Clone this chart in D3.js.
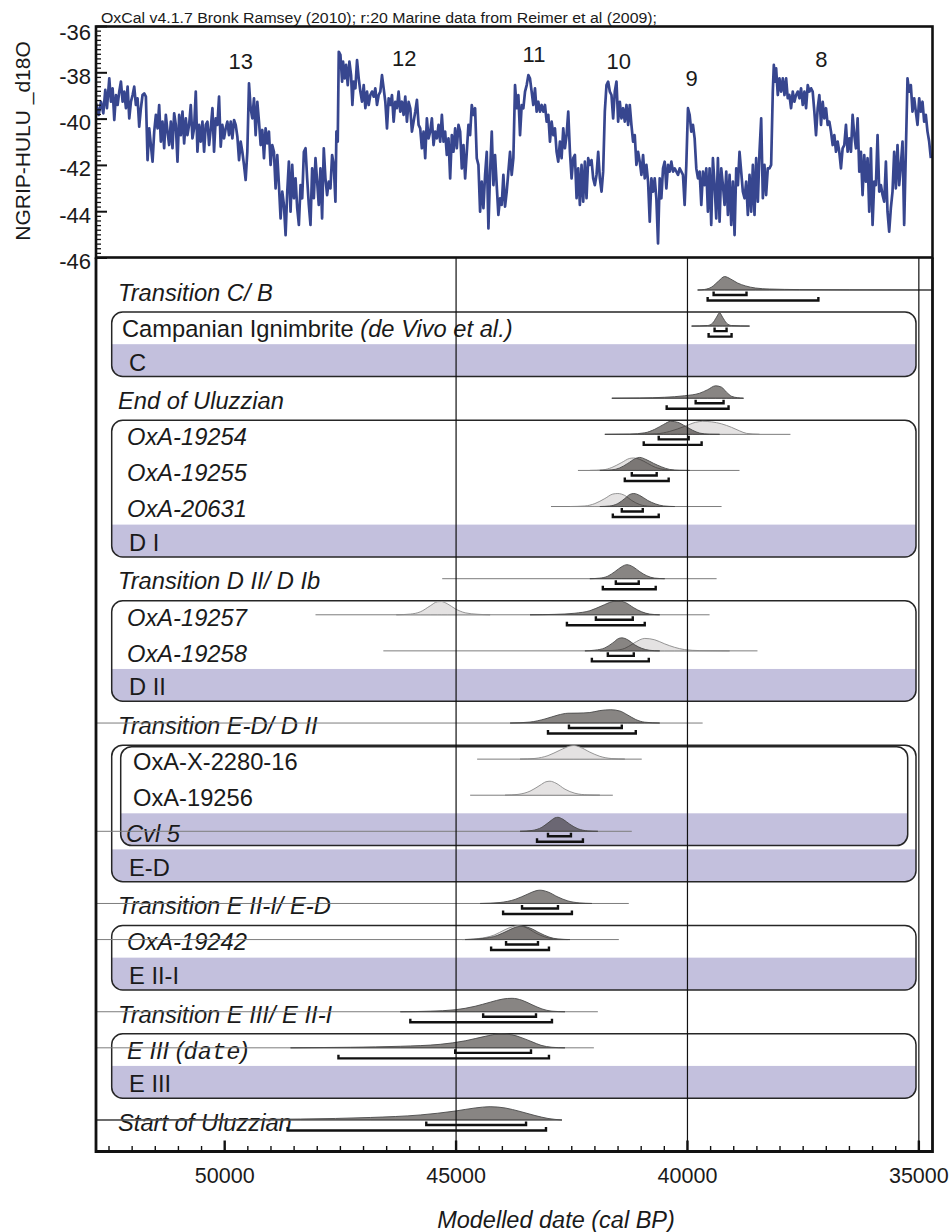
<!DOCTYPE html>
<html>
<head>
<meta charset="utf-8">
<script src="https://cdn.jsdelivr.net/npm/d3@7"></script>
<style>
  html, body { margin: 0; padding: 0; background: #fff; }
  svg { display: block; }
  text { font-family: 'Liberation Sans', Arial, Helvetica, sans-serif; fill: #1a1a1a; }
</style>
</head>
<body>
<svg id="chart" width="951" height="1232"></svg>
<script>
(function () {
  'use strict';

  // ---- NGRIP-HULU d18O record [age cal BP, d18O] ----
  const NGRIP = [
    [52781,-39.32],[52724,-39.82],[52673,-39.25],[52623,-39.75],[52580,-38.74],[52544,-39.53],[52494,-38.24],[52458,-39.25],
    [52422,-38.67],[52386,-40.04],[52350,-38.96],[52314,-39.39],[52278,-38.81],[52242,-38.38],[52206,-39.25],[52170,-38.81],
    [52134,-39.53],[52098,-38.60],[52062,-39.97],[52026,-39.25],[51990,-38.96],[51955,-38.60],[51919,-39.39],[51883,-39.10],
    [51847,-40.33],[51811,-39.53],[51775,-38.96],[51739,-38.89],[51703,-39.03],[51667,-41.77],[51631,-40.40],[51595,-41.12],
    [51559,-41.84],[51523,-40.54],[51487,-39.82],[51451,-40.40],[51416,-39.39],[51380,-40.97],[51344,-40.11],[51308,-41.26],
    [51272,-39.82],[51236,-40.54],[51200,-41.12],[51164,-40.11],[51128,-41.26],[51092,-39.75],[51056,-40.25],[51020,-41.84],
    [50984,-39.82],[50948,-40.69],[50912,-39.68],[50876,-41.05],[50840,-39.97],[50805,-40.69],[50769,-40.25],[50733,-39.39],
    [50697,-40.83],[50661,-40.40],[50625,-38.81],[50589,-41.41],[50553,-40.25],[50517,-40.97],[50481,-40.11],[50445,-41.41],
    [50409,-40.25],[50373,-40.11],[50337,-41.12],[50301,-40.40],[50265,-39.53],[50230,-41.41],[50194,-39.97],[50158,-40.25],
    [50122,-39.03],[50086,-41.19],[50050,-40.25],[50014,-40.83],[49978,-40.40],[49942,-40.11],[49906,-40.69],[49870,-40.11],
    [49834,-40.83],[49798,-40.04],[49762,-40.25],[49726,-40.76],[49690,-41.77],[49655,-40.97],[49619,-41.41],[49583,-41.98],
    [49547,-42.63],[49511,-41.41],[49475,-38.46],[49439,-39.53],[49403,-39.97],[49367,-39.10],[49331,-40.69],[49295,-39.25],
    [49259,-40.11],[49223,-41.12],[49187,-40.47],[49151,-41.69],[49116,-40.40],[49080,-41.05],[49044,-40.54],[49008,-41.98],
    [48972,-41.12],[48936,-41.41],[48900,-42.99],[48864,-41.55],[48828,-42.85],[48792,-44.29],[48756,-43.13],[48720,-43.71],
    [48684,-45.01],[48648,-43.13],[48613,-41.84],[48577,-44.00],[48541,-41.98],[48505,-43.42],[48469,-42.56],[48433,-43.85],
    [48397,-44.57],[48361,-42.85],[48325,-43.42],[48289,-41.41],[48253,-41.26],
    [48218,-42.56],[48182,-43.71],[48146,-44.57],[48110,-42.13],[48074,-43.42],[48038,-41.69],[48002,-42.70],[47967,-43.71],
    [47931,-42.13],[47895,-44.29],[47859,-41.26],[47823,-42.56],[47787,-43.28],[47751,-42.70],[47715,-42.99],[47679,-41.55],
    [47643,-41.98],[47607,-43.57],[47586,-40.54],[47557,-40.97],[47535,-37.09],[47499,-37.23],[47463,-38.38],[47442,-37.52],
    [47406,-38.24],[47377,-37.66],[47341,-38.53],[47305,-37.52],[47269,-38.10],[47241,-39.39],[47212,-38.38],[47176,-38.67],
    [47140,-37.45],[47104,-38.24],[47068,-38.81],[47032,-39.25],[46996,-38.53],[46960,-39.53],[46924,-38.81],[46888,-39.39],
    [46853,-38.96],[46817,-38.81],[46781,-39.03],[46745,-38.67],[46709,-39.39],[46673,-38.96],[46637,-38.81],[46601,-38.10],
    [46565,-38.67],[46529,-39.25],[46493,-40.40],[46457,-39.10],[46421,-39.39],[46385,-38.96],[46349,-40.11],[46314,-39.25],
    [46278,-39.53],[46242,-38.81],[46206,-39.68],[46170,-39.25],[46134,-39.82],[46098,-39.03],[46062,-40.11],[46026,-39.25],
    [45990,-39.53],[45954,-40.54],[45918,-40.11],[45882,-39.68],[45846,-39.17],[45810,-40.25],[45775,-40.40],[45739,-41.26],
    [45703,-40.54],[45667,-41.69],[45631,-39.97],[45595,-40.83],[45559,-40.54],[45523,-39.97],[45487,-41.12],[45451,-40.54],
    [45415,-40.83],[45379,-40.25],[45343,-40.97],[45307,-39.82],[45271,-40.97],[45236,-40.54],[45200,-41.55],[45164,-40.83],
    [45128,-42.56],[45092,-40.69],[45056,-41.41],[45020,-40.40],[44984,-41.26],[44948,-40.25],[44912,-40.54],[44876,-42.13],
    [44840,-41.12],[44804,-42.56],[44768,-41.41],[44733,-40.25],[44697,-40.69],[44661,-39.39],[44625,-39.82],[44589,-39.53],
    [44553,-41.69],[44517,-41.98],[44481,-44.00],[44445,-42.70],[44409,-43.85],[44373,-42.41],[44337,-41.41],[44301,-44.72],
    [44265,-42.27],[44229,-40.54],[44193,-42.85],[44158,-41.55],[44122,-42.85],[44086,-44.14],[44050,-43.42],[44014,-43.71],
    [43978,-42.41],[43942,-43.78],[43906,-43.13],[43870,-42.27],[43834,-41.41],[43798,-42.41],[43762,-41.69],[43726,-38.53],
    [43690,-39.53],[43654,-38.96],[43618,-40.69],[43582,-39.39],[43546,-39.53],[43510,-38.81],[43474,-38.53],[43438,-38.10],
    [43403,-38.24],[43367,-38.81],[43331,-39.39],[43295,-38.67],[43259,-39.68],[43223,-39.25],[43187,-39.68],[43151,-39.39],
    [43115,-39.68],[43079,-39.39],[43043,-40.11],[43007,-39.82],[42971,-40.97],[42935,-40.11],[42899,-40.69],[42864,-40.40],
    [42828,-41.41],[42792,-41.84],[42756,-40.97],[42720,-41.69],[42684,-40.40],[42648,-41.26],[42612,-40.69],[42576,-39.68],
    [42540,-41.41],[42504,-42.56],[42468,-41.69],[42432,-41.55],[42396,-43.42],[42361,-42.13],[42325,-43.71],[42289,-41.98],
    [42253,-43.57],[42217,-41.84],[42181,-43.42],[42145,-41.69],[42109,-41.98],[42073,-41.77],[42037,-42.56],[42001,-42.85],
    [41965,-42.41],[41929,-41.41],[41893,-42.56],[41857,-43.13],[41822,-42.27],[41786,-39.68],[41750,-38.53],[41714,-38.38],
    [41678,-38.81],[41642,-38.96],[41606,-39.97],[41570,-38.81],[41534,-38.38],[41498,-40.11],[41462,-39.25],[41426,-39.97],
    [41390,-39.53],[41354,-40.11],[41318,-39.39],[41282,-40.25],[41247,-39.39],[41211,-40.25],[41175,-40.97],[41139,-40.69],
    [41103,-41.98],[41067,-41.41],[41031,-41.84],[40995,-42.41],[40959,-41.55],[40923,-42.56],[40887,-41.98],[40851,-42.70],
    [40815,-44.43],[40779,-42.56],[40743,-43.13],[40708,-42.56],[40672,-43.42],[40636,-45.37],[40600,-42.56],[40564,-43.42],
    [40528,-42.13],[40492,-41.84],[40456,-42.99],[40420,-41.98],[40384,-42.27],[40348,-41.84],[40312,-42.27],[40276,-42.13],
    [40240,-42.27],[40204,-42.41],[40168,-42.13],[40132,-42.27],[40097,-42.41],[40061,-43.71],[40025,-41.98],[39989,-39.53],
    [39953,-39.82],[39917,-40.54],[39881,-40.25],[39845,-40.83],[39809,-42.13],[39773,-42.56],[39737,-42.27],[39701,-43.71],
    [39665,-42.27],[39629,-42.85],[39593,-42.13],[39558,-44.00],[39522,-42.13],[39486,-44.57],[39450,-41.69],[39414,-42.85],
    [39378,-44.29],[39342,-41.69],[39306,-44.43],[39270,-42.13],[39234,-42.85],[39198,-43.71],
    [39162,-42.27],[39126,-44.14],[39090,-42.41],[39054,-44.57],[39018,-42.70],[38982,-45.01],[38946,-42.13],[38910,-42.85],
    [38875,-41.41],[38839,-42.27],[38803,-43.13],[38767,-43.42],[38731,-42.70],[38695,-44.14],[38659,-42.41],[38623,-44.00],
    [38587,-41.98],[38551,-44.14],[38515,-41.69],[38479,-43.57],[38443,-41.41],[38407,-39.97],[38371,-43.42],[38336,-41.98],
    [38300,-43.28],[38264,-42.13],[38228,-42.13],[38192,-41.98],[38156,-38.81],[38134,-37.66],[38106,-38.38],[38084,-37.81],
    [38048,-38.96],[38012,-38.24],[37976,-38.81],[37940,-38.24],[37904,-38.96],[37868,-38.24],[37833,-39.10],[37797,-38.96],
    [37761,-39.53],[37725,-38.81],[37689,-39.25],[37653,-38.96],[37617,-38.81],[37581,-39.10],[37545,-38.67],[37509,-39.39],
    [37473,-38.81],[37437,-39.53],[37401,-38.53],[37365,-38.81],[37329,-38.67],[37294,-38.81],[37258,-39.68],[37222,-40.69],
    [37186,-39.53],[37150,-38.96],[37114,-40.25],[37078,-39.25],[37042,-39.97],[37006,-39.53],[36970,-40.25],[36934,-40.11],
    [36898,-40.54],[36862,-41.12],[36826,-40.69],[36790,-41.41],[36755,-40.97],[36719,-41.41],[36683,-42.13],[36647,-41.26],
    [36611,-41.12],[36575,-40.25],[36539,-41.41],[36503,-40.83],[36467,-41.41],[36431,-39.82],[36395,-40.69],[36359,-41.26],
    [36323,-39.97],[36287,-42.27],[36251,-41.41],[36216,-43.28],[36180,-41.55],[36144,-42.70],[36108,-41.69],[36072,-44.00],
    [36036,-41.26],[36000,-44.57],[35964,-42.70],[35928,-42.85],[35892,-40.69],[35856,-43.13],[35820,-42.85],[35784,-43.28],
    [35748,-43.57],[35712,-41.84],[35677,-44.00],[35641,-44.86],[35605,-43.85],[35569,-43.13],[35533,-41.41],[35497,-42.99],
    [35461,-41.12],[35425,-42.85],[35389,-41.98],[35353,-40.97],[35317,-44.57],[35281,-41.41],[35245,-38.24],[35209,-38.81],
    [35173,-38.53],[35137,-39.68],[35101,-39.10],[35065,-39.68],[35029,-40.25],[34993,-39.10],[34957,-39.68],[34921,-39.25],
    [34885,-40.11],[34849,-39.82],[34813,-40.54],[34777,-40.97],[34741,-41.69]
  ];

  // Interstadial numbers above the curve
  const EVENT_LABELS = ['13', '12', '11', '10', '9', '8'];
  const EVENT_AGE = [49655, 46119, 43316, 41483, 39909, 37107];
  const EVENT_D18O = [-37.48, -37.37, -37.2, -37.49, -38.21, -37.42];

  // ---- OxCal model rows (top to bottom) ----
  const ROWS = [
    'Transition C/ B', 'Campanian Ignimbrite (de Vivo et al.)', 'C',
    'End of Uluzzian', 'OxA-19254', 'OxA-19255', 'OxA-20631', 'D I',
    'Transition D II/ D Ib', 'OxA-19257', 'OxA-19258', 'D II',
    'Transition E-D/ D II', 'OxA-X-2280-16', 'OxA-19256', 'Cvl 5', 'E-D',
    'Transition E II-I/ E-D', 'OxA-19242', 'E II-I',
    'Transition E III/ E II-I', 'E III (date)', 'E III',
    'Start of Uluzzian'
  ];
  const ROW_TYPE = [
    'boundary', 'cdate', 'phase',
    'boundary', 'date', 'date', 'date', 'phase',
    'boundary', 'date', 'date', 'phase',
    'boundary', 'nested', 'nested', 'subphase', 'phase',
    'boundary', 'date', 'phase',
    'boundary', 'date', 'phase',
    'boundary'
  ];

  // Phase boxes: first row inside, row carrying the phase name
  const PHASES = [
    { name: 'C', from: 1, to: 2 },
    { name: 'D I', from: 4, to: 7 },
    { name: 'D II', from: 9, to: 11 },
    { name: 'E-D', from: 13, to: 16 },
    { name: 'Cvl 5', from: 13, to: 15, inner: true },
    { name: 'E II-I', from: 18, to: 19 },
    { name: 'E III', from: 21, to: 22 }
  ];

  // Unmodelled likelihoods [age, relative probability]
  const LIKELIHOOD = {
    'OxA-19254': [[41030,0],[40665,.04],[40384,.21],[40060,.57],[39823,.86],[39672,.93],[39478,.89],[39263,.75],[39047,.5],[38875,.25],[38724,.07],[38444,0]],
    'OxA-19255': [[42109,0],[41829,.04],[41634,.21],[41419,.57],[41247,.86],[41160,.89],[41031,.79],[40857,.5],[40686,.21],[40492,.06],[40276,0]],
    'OxA-20631': [[42540,0],[42216,.04],[42001,.21],[41785,.57],[41613,.89],[41505,.93],[41354,.79],[41203,.43],[41030,.14],[40815,.02],[40600,0]],
    'OxA-19257': [[46291,0],[45989,.05],[45773,.21],[45558,.64],[45407,.93],[45321,.95],[45191,.79],[45019,.43],[44803,.14],[44545,.04],[44264,0]],
    'OxA-19258': [[41893,0],[41570,.04],[41354,.18],[41182,.5],[41030,.79],[40922,.89],[40707,.79],[40492,.5],[40276,.25],[40060,.09],[39737,.02],[39090,0]],
    'OxA-X-2280-16': [[43618,0],[43295,.05],[43014,.25],[42755,.64],[42540,.93],[42454,.97],[42324,.86],[42109,.5],[41893,.2],[41634,.04],[41354,0]],
    'OxA-19256': [[43941,0],[43661,.06],[43402,.29],[43186,.71],[43057,.96],[42971,1],[42842,.86],[42647,.43],[42432,.14],[42152,.02],[41893,0]],
    'OxA-19242': [[44868,0],[44523,.07],[44178,.32],[43941,.71],[43769,.93],[43661,.99],[43489,.86],[43273,.46],[43057,.16],[42842,.03],[42583,0]]
  };

  // Modelled posteriors [age, relative probability]
  const POSTERIOR = {
    'Transition C/ B': [[39780,0],[39629,.04],[39478,.21],[39327,.64],[39198,.96],[39069,.79],[38918,.5],[38745,.29],[38530,.14],[38228,.07],[37581,.03],[36503,.01],[34705,0]],
    'Campanian Ignimbrite (de Vivo et al.)': [[39910,0],[39565,.04],[39457,.21],[39371,.64],[39306,.95],[39242,.64],[39155,.21],[39047,.04],[38659,0]],
    'End of Uluzzian': [[41634,0],[41030,.02],[40492,.07],[40060,.18],[39737,.36],[39565,.61],[39392,.89],[39263,.79],[39155,.43],[39047,.14],[38918,.04],[38789,0]],
    'OxA-19254': [[41785,0],[41246,.02],[40922,.11],[40707,.36],[40513,.71],[40362,.93],[40211,.86],[40039,.57],[39888,.29],[39737,.09],[39522,.01],[39306,0]],
    'OxA-19255': [[41893,0],[41634,.04],[41462,.18],[41290,.5],[41117,.86],[41031,.93],[40902,.79],[40729,.5],[40557,.25],[40384,.07],[40169,.01],[39953,0]],
    'OxA-20631': [[41893,0],[41677,.04],[41505,.21],[41354,.57],[41247,.86],[41160,.93],[41031,.79],[40857,.43],[40686,.18],[40513,.04],[40276,0]],
    'Transition D II/ D Ib': [[42109,0],[41893,.04],[41721,.18],[41570,.5],[41419,.86],[41311,1],[41182,.86],[41031,.5],[40880,.21],[40707,.04],[40492,0]],
    'OxA-19257': [[43402,0],[42863,.03],[42432,.11],[42109,.29],[41850,.64],[41634,.93],[41505,1],[41333,.86],[41160,.5],[40988,.21],[40815,.05],[40600,0]],
    'OxA-19258': [[42216,0],[42001,.05],[41785,.21],[41613,.57],[41484,.89],[41419,.93],[41290,.79],[41139,.43],[40988,.18],[40815,.04],[40600,0]],
    'Transition E-D/ D II': [[43833,0],[43402,.07],[43079,.29],[42798,.57],[42583,.7],[42367,.71],[42109,.75],[41893,.89],[41656,.95],[41462,.86],[41290,.57],[41117,.25],[40923,.06],[40600,0]],
    'Cvl 5': [[43618,0],[43359,.06],[43144,.29],[42971,.71],[42863,.96],[42799,1],[42691,.86],[42540,.5],[42367,.18],[42152,.03],[41936,0]],
    'Transition E II-I/ E-D': [[44480,0],[44049,.07],[43725,.29],[43445,.68],[43273,.91],[43186,.95],[43014,.82],[42798,.46],[42583,.18],[42324,.04],[42066,0]],
    'OxA-19242': [[44804,0],[44437,.07],[44113,.29],[43876,.64],[43704,.89],[43575,.95],[43402,.82],[43186,.46],[42993,.18],[42798,.04],[42540,0]],
    'Transition E III/ E II-I': [[46205,0],[45558,.04],[45019,.14],[44588,.39],[44264,.68],[43984,.91],[43790,.96],[43575,.82],[43359,.5],[43144,.2],[42928,.04],[42647,0]],
    'E III (date)': [[48577,0],[47284,.04],[46205,.11],[45343,.25],[44803,.5],[44372,.82],[44049,1],[43790,.93],[43575,.71],[43359,.43],[43165,.18],[42928,.04],[42647,0]],
    'Start of Uluzzian': [[52781,0],[50517,.02],[48361,.07],[46852,.18],[45774,.36],[45019,.64],[44588,.86],[44264,.95],[43941,.86],[43618,.61],[43295,.32],[43014,.11],[42712,0]]
  };

  // Extent of each row's plotted range line (null = runs to the frame)
  const SPAN = {
    'Transition C/ B': [39780, null],
    'Campanian Ignimbrite (de Vivo et al.)': [39910, 38659],
    'End of Uluzzian': [41634, 38789],
    'OxA-19254': [41785, 37775],
    'OxA-19255': [42367, 38875],
    'OxA-20631': [42949, 39263],
    'Transition D II/ D Ib': [45300, 39370],
    'OxA-19257': [48038, 39522],
    'OxA-19258': [46572, 38487],
    'Transition E-D/ D II': [null, 39672],
    'OxA-X-2280-16': [44545, 40988],
    'OxA-19256': [44696, 41613],
    'Cvl 5': [null, 41203],
    'Transition E II-I/ E-D': [null, 41268],
    'OxA-19242': [null, 41483],
    'Transition E III/ E II-I': [null, 41936],
    'E III (date)': [null, 42022],
    'Start of Uluzzian': [null, 42712]
  };

  // 68.2% and 95.4% highest posterior density ranges
  const RANGE68 = {
    'Transition C/ B': [39435, 38724],
    'Campanian Ignimbrite (de Vivo et al.)': [39414, 39155],
    'End of Uluzzian': [39823, 39220],
    'OxA-19254': [40621, 39974],
    'OxA-19255': [41203, 40665],
    'OxA-20631': [41419, 40966],
    'Transition D II/ D Ib': [41548, 41053],
    'OxA-19257': [41979, 41182],
    'OxA-19258': [41721, 41160],
    'Transition E-D/ D II': [42561, 41419],
    'Cvl 5': [43014, 42518],
    'Transition E II-I/ E-D': [43575, 42798],
    'OxA-19242': [43920, 43230],
    'Transition E III/ E II-I': [44415, 43273],
    'E III (date)': [45019, 43381],
    'Start of Uluzzian': [45644, 43488]
  };
  const RANGE95 = {
    'Transition C/ B': [39564, 37171],
    'Campanian Ignimbrite (de Vivo et al.)': [39543, 39047],
    'End of Uluzzian': [40449, 39112],
    'OxA-19254': [40945, 39694],
    'OxA-19255': [41354, 40406],
    'OxA-20631': [41613, 40621],
    'Transition D II/ D Ib': [41829, 40686],
    'OxA-19257': [42605, 40923],
    'OxA-19258': [42066, 40836],
    'Transition E-D/ D II': [43014, 41117],
    'Cvl 5': [43251, 42259],
    'Transition E II-I/ E-D': [43984, 42497],
    'OxA-19242': [44243, 42993],
    'Transition E III/ E II-I': [45989, 42928],
    'E III (date)': [47542, 42993],
    'Start of Uluzzian': [48641, 43057]
  };

  const X_TICK_LABELS = [50000, 45000, 40000, 35000];
  const Y_TICK_LABELS = [-36, -38, -40, -42, -44, -46];

  // ---- Layout ----
  const X0 = 96, X1 = 932.5;
  const TOP_Y0 = 26.5, TOP_Y1 = 257.5, BOT_Y1 = 1151.5;
  const BAND = '#c3c0dd';
  const MONO = "'Liberation Mono', 'DejaVu Sans Mono', monospace";

  const svg = d3.select('#chart');

  const x = d3.scaleLinear().domain([52781, 34705]).range([X0, X1]);
  const yTop = d3.scaleLinear().domain([-46, -36]).range([258, TOP_Y0]);
  const rowY = d3.scaleLinear().domain([0, ROWS.length - 1]).range([290, 1120]);
  const hgt = d3.scaleLinear().domain([0, 1]).range([0, 14]);

  svg.append('rect').attr('width', 951).attr('height', 1232).attr('fill', '#fff');

  // ---- Header ----
  svg.append('text')
    .attr('x', 101).attr('y', 23)
    .attr('font-size', 14)
    .attr('textLength', 556).attr('lengthAdjust', 'spacingAndGlyphs')
    .text('OxCal v4.1.7 Bronk Ramsey (2010); r:20 Marine data from Reimer et al (2009);');

  // ---- Top panel: NGRIP-HULU curve ----
  svg.append('clipPath').attr('id', 'top-clip')
    .append('rect')
    .attr('x', X0).attr('y', TOP_Y0)
    .attr('width', X1 - X0).attr('height', TOP_Y1 - TOP_Y0);

  const line = d3.line()
    .x(function (d) { return x(d[0]); })
    .y(function (d) { return yTop(d[1]); });

  svg.append('path')
    .datum(NGRIP)
    .attr('clip-path', 'url(#top-clip)')
    .attr('d', line)
    .attr('fill', 'none')
    .attr('stroke', '#37468f')
    .attr('stroke-width', 2.7)
    .attr('stroke-linejoin', 'round');

  svg.append('g').selectAll('text')
    .data(EVENT_LABELS)
    .enter()
    .append('text')
    .attr('x', function (d, i) { return x(EVENT_AGE[i]); })
    .attr('y', function (d, i) { return yTop(EVENT_D18O[i]) + 8; })
    .attr('text-anchor', 'middle')
    .attr('font-size', 22)
    .text(function (d) { return d; });

  // y axis ticks (inside) and labels
  const yAxis = svg.append('g');
  d3.range(0, 51).forEach(function (k) {
    const v = -46 + k * 0.2;
    const major = k % 10 === 0;
    yAxis.append('line')
      .attr('x1', X0).attr('x2', X0 + (major ? 11 : 5))
      .attr('y1', yTop(v)).attr('y2', yTop(v))
      .attr('stroke', '#111').attr('stroke-width', major ? 2 : 1.3);
  });
  yAxis.selectAll('text')
    .data(Y_TICK_LABELS)
    .enter()
    .append('text')
    .attr('x', 91)
    .attr('y', function (d) { return yTop(d) + (d === -36 ? 13 : 11); })
    .attr('text-anchor', 'end')
    .attr('font-size', 22)
    .text(function (d) { return d; });

  svg.append('text')
    .attr('transform', 'translate(30,141) rotate(-90)')
    .attr('text-anchor', 'middle')
    .attr('font-size', 21)
    .text('NGRIP-HULU _d18O');

  // ---- Bottom panel: phase boxes ----
  const boxes = svg.append('g');
  PHASES.forEach(function (p, i) {
    const bx = p.inner ? 120.7 : 111.7;
    const bw = (p.inner ? 907.7 : 916) - bx;
    const top = rowY(p.from) - (p.inner ? 12.5 : 14);
    const bottom = rowY(p.to) + 14.3;
    const id = 'box-clip-' + i;
    boxes.append('clipPath').attr('id', id)
      .append('rect')
      .attr('x', bx).attr('y', top).attr('width', bw).attr('height', bottom - top)
      .attr('rx', 11);
    if (!p.inner) {
      boxes.append('rect')
        .attr('x', bx).attr('y', top).attr('width', bw).attr('height', bottom - top)
        .attr('rx', 11).attr('fill', '#fff');
    }
    boxes.append('rect')
      .attr('clip-path', 'url(#' + id + ')')
      .attr('x', bx).attr('y', rowY(p.to) - 18)
      .attr('width', bw).attr('height', bottom - rowY(p.to) + 18)
      .attr('fill', BAND);
    boxes.append('rect')
      .attr('x', bx).attr('y', top).attr('width', bw).attr('height', bottom - top)
      .attr('rx', 11)
      .attr('fill', 'none').attr('stroke', '#262626').attr('stroke-width', 1.5);
  });

  // ---- Row labels ----
  const LABEL_X = { boundary: 118, date: 127, cdate: 122, nested: 133, subphase: 126, phase: 129 };
  const labels = svg.append('g').attr('font-size', 23.7);
  ROWS.forEach(function (name, i) {
    const type = ROW_TYPE[i];
    const t = labels.append('text')
      .attr('x', LABEL_X[type])
      .attr('y', rowY(i) + (type === 'phase' ? 8.5 : 10.8));
    if (type === 'cdate') {
      const cut = name.indexOf(' (');
      t.append('tspan').text(name.slice(0, cut + 1));
      t.append('tspan').attr('font-style', 'italic').text(name.slice(cut + 1));
    } else if (name.indexOf('(date)') >= 0) {
      t.attr('font-style', 'italic');
      t.append('tspan').text(name.replace('date)', ''));
      t.append('tspan').attr('font-family', MONO).text('date');
      t.append('tspan').text(')');
    } else {
      t.attr('font-style', type === 'boundary' || type === 'date' || type === 'subphase' ? 'italic' : 'normal')
        .text(name);
    }
  });

  // ---- Distributions ----
  const area = d3.area()
    .x(function (d) { return x(d[0]); })
    .y0(0)
    .y1(function (d) { return -hgt(d[1]); })
    .curve(d3.curveMonotoneX);

  const dists = svg.append('g');
  ROWS.forEach(function (name, i) {
    const span = SPAN[name];
    if (!span) return;
    const g = dists.append('g').attr('transform', 'translate(0,' + rowY(i) + ')');
    const x1 = span[0] === null ? X0 : x(span[0]);
    const x2 = span[1] === null ? X1 : x(span[1]);
    g.append('line')
      .attr('x1', x1).attr('x2', x2)
      .attr('stroke', '#7d7d7d').attr('stroke-width', 1);
    if (LIKELIHOOD[name]) {
      g.append('path').attr('d', area(LIKELIHOOD[name]))
        .attr('fill', '#e4e2e2').attr('stroke', '#8a8a8a').attr('stroke-width', 0.9);
    }
    if (POSTERIOR[name]) {
      g.append('path').attr('d', area(POSTERIOR[name]))
        .attr('fill', '#1a1612').attr('fill-opacity', 0.52)
        .attr('stroke', '#4a4a4a').attr('stroke-width', 0.9);
    }
    [[RANGE68[name], 5], [RANGE95[name], 10.5]].forEach(function (r) {
      if (!r[0]) return;
      const a = x(r[0][0]), b = x(r[0][1]), yy = r[1];
      g.append('path')
        .attr('d', 'M' + a + ',' + (yy - 3.5) + 'V' + yy + 'H' + b + 'V' + (yy - 3.5))
        .attr('fill', 'none').attr('stroke', '#111').attr('stroke-width', 2.4);
    });
  });

  // ---- Reference lines every 5000 years ----
  svg.append('g').selectAll('line')
    .data([45000, 40000, 35000])
    .enter()
    .append('line')
    .attr('x1', function (d) { return x(d); })
    .attr('x2', function (d) { return x(d); })
    .attr('y1', TOP_Y1).attr('y2', BOT_Y1)
    .attr('stroke', '#111').attr('stroke-width', 1.2);

  // ---- Frames ----
  svg.append('rect')
    .attr('x', X0).attr('y', TOP_Y0)
    .attr('width', X1 - X0).attr('height', TOP_Y1 - TOP_Y0)
    .attr('fill', 'none').attr('stroke', '#111').attr('stroke-width', 2.6);
  svg.append('path')
    .attr('d', 'M' + X0 + ',' + TOP_Y1 + 'V' + BOT_Y1 + 'H' + X1 + 'V' + TOP_Y1)
    .attr('fill', 'none').attr('stroke', '#111').attr('stroke-width', 2.8);

  // ---- x axis (ticks inside, every 500 years) ----
  const xAxis = svg.append('g');
  d3.range(35000, 52501, 500).forEach(function (v) {
    const major = v % 5000 === 0;
    xAxis.append('line')
      .attr('x1', x(v)).attr('x2', x(v))
      .attr('y1', BOT_Y1).attr('y2', BOT_Y1 - (major ? 11 : 5.5))
      .attr('stroke', '#111').attr('stroke-width', major ? 2.4 : 1.4);
  });
  xAxis.selectAll('text')
    .data(X_TICK_LABELS)
    .enter()
    .append('text')
    .attr('x', function (d) { return x(d); })
    .attr('y', 1183)
    .attr('text-anchor', 'middle')
    .attr('font-size', 21.5)
    .text(function (d) { return d; });

  svg.append('text')
    .attr('x', 556).attr('y', 1228)
    .attr('text-anchor', 'middle')
    .attr('font-size', 23.5)
    .attr('font-style', 'italic')
    .text('Modelled date (cal BP)');
})();
</script>
</body>
</html>
